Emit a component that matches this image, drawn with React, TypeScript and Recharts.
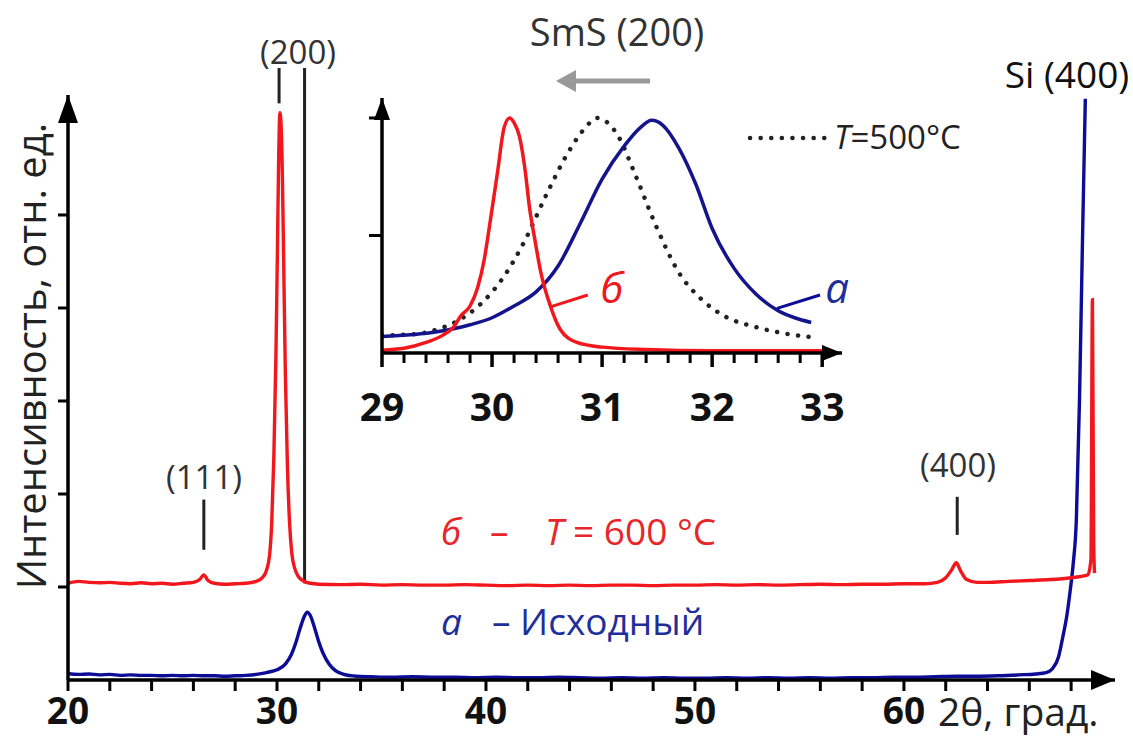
import React from "react";
import {
  ComposedChart,
  LineChart,
  Line,
  XAxis,
  YAxis,
  ReferenceLine,
  ReferenceDot,
} from "recharts";

const FONT = '"Open Sans", "Noto Sans", sans-serif';
const RED = "#f2161d";
const BLUE = "#0c0c96";

// main XRD pattern: 2θ (deg), intensity in tick units (arb.)
const mainXTicks = [20, 22, 24, 26, 28, 30, 32, 34, 36, 38, 40, 42, 44, 46, 48, 50, 52, 54, 56, 58, 60, 62, 64, 66, 68];
const mainYTicks = [1, 2, 3, 4, 5];

// а – as-deposited
const curveA: [number, number][] = [
  [20.0, 0.07], [20.5, 0.06], [21.0, 0.065], [21.5, 0.055], [22.0, 0.06], [22.5, 0.05], [23.0, 0.055],
  [23.5, 0.05], [24.0, 0.05], [24.5, 0.045], [25.0, 0.05], [25.5, 0.045], [26.0, 0.05], [26.5, 0.045],
  [27.0, 0.045], [27.5, 0.04], [28.0, 0.045], [28.5, 0.05], [29.0, 0.06], [29.5, 0.08], [30.0, 0.11],
  [30.4, 0.17], [30.7, 0.28], [30.9, 0.4], [31.1, 0.55], [31.3, 0.68], [31.45, 0.73], [31.6, 0.69],
  [31.8, 0.56], [32.0, 0.41], [32.2, 0.29], [32.5, 0.17], [32.8, 0.1], [33.2, 0.06], [33.8, 0.04],
  [34.5, 0.035], [35.5, 0.03], [36.5, 0.035], [37.5, 0.03], [38.5, 0.03], [39.5, 0.025], [40.5, 0.03],
  [41.5, 0.025], [42.5, 0.025], [43.5, 0.03], [44.5, 0.025], [45.5, 0.02], [46.5, 0.025], [47.5, 0.02],
  [48.5, 0.025], [49.5, 0.02], [50.5, 0.02], [51.5, 0.025], [52.5, 0.02], [53.5, 0.025], [54.5, 0.02],
  [55.5, 0.025], [56.5, 0.02], [57.5, 0.025], [58.5, 0.025], [59.5, 0.03], [60.5, 0.03], [61.5, 0.035],
  [62.5, 0.04], [63.5, 0.04], [64.5, 0.045], [65.5, 0.055], [66.3, 0.065], [66.8, 0.08], [67.1, 0.12],
  [67.4, 0.25], [67.6, 0.46], [67.8, 0.7], [67.95, 0.95], [68.1, 1.25], [68.25, 1.72], [68.4, 3.0],
  [68.55, 4.8], [68.68, 6.25],
];

// б – annealed at 600 °C (offset upward)
const curveB: [number, number][] = [
  [20.0, 1.04], [20.5, 1.06], [21.0, 1.05], [21.5, 1.045], [22.0, 1.05], [22.5, 1.04], [23.0, 1.035],
  [23.5, 1.045], [24.0, 1.035], [24.5, 1.04], [25.0, 1.03], [25.5, 1.04], [26.0, 1.05], [26.3, 1.08],
  [26.5, 1.13], [26.7, 1.07], [27.0, 1.04], [27.5, 1.03], [28.0, 1.035], [28.5, 1.04], [29.0, 1.06],
  [29.3, 1.1], [29.5, 1.18], [29.65, 1.35], [29.75, 1.7], [29.85, 2.4], [29.95, 3.5], [30.02, 4.6],
  [30.08, 5.6], [30.14, 6.1], [30.2, 5.95], [30.26, 5.4], [30.32, 4.5], [30.4, 3.3], [30.5, 2.3],
  [30.6, 1.7], [30.7, 1.38], [30.85, 1.2], [31.0, 1.12], [31.3, 1.06], [31.6, 1.04], [32.0, 1.03],
  [33, 1.025], [34, 1.03], [35, 1.02], [36, 1.025], [37, 1.02], [38, 1.02], [39, 1.025], [40, 1.02],
  [41, 1.015], [42, 1.02], [43, 1.015], [44, 1.02], [45, 1.015], [46, 1.02], [47, 1.02], [48, 1.015],
  [49, 1.02], [50, 1.02], [51, 1.025], [52, 1.02], [53, 1.025], [54, 1.02], [55, 1.025], [56, 1.03],
  [57, 1.025], [58, 1.03], [59, 1.03], [60, 1.035], [61, 1.035], [61.6, 1.05], [62.0, 1.1], [62.3, 1.19],
  [62.5, 1.26], [62.7, 1.18], [63.0, 1.08], [63.5, 1.05], [64, 1.05], [65, 1.06], [66, 1.07], [67, 1.08],
  [68, 1.1], [68.8, 1.13], [68.95, 1.3], [69.02, 4.09], [69.08, 1.5], [69.12, 1.15],
];

// inset: SmS (200) normalised
const insetXTicks = [29, 29.2, 29.4, 29.6, 29.8, 30, 30.2, 30.4, 30.6, 30.8, 31, 31.2, 31.4, 31.6, 31.8, 32, 32.2, 32.4, 32.6, 32.8, 33];
const insetYTicks = [0.5, 1];

const insetA: [number, number][] = [
  [29.0, 0.07], [29.5, 0.09], [29.8, 0.12], [30.0, 0.15], [30.2, 0.2], [30.4, 0.26], [30.6, 0.37],
  [30.8, 0.55], [31.0, 0.74], [31.2, 0.88], [31.35, 0.96], [31.45, 0.99], [31.55, 0.97], [31.7, 0.87],
  [31.85, 0.72], [32.0, 0.53], [32.2, 0.36], [32.4, 0.25], [32.6, 0.18], [32.75, 0.15], [32.9, 0.13],
];
const insetB: [number, number][] = [
  [29.0, 0.012], [29.2, 0.02], [29.4, 0.045], [29.55, 0.075], [29.65, 0.11], [29.72, 0.16], [29.8, 0.2],
  [29.87, 0.28], [29.93, 0.4], [29.98, 0.55], [30.05, 0.77], [30.11, 0.96], [30.16, 1.0], [30.2, 0.98],
  [30.25, 0.92], [30.3, 0.78], [30.34, 0.62], [30.39, 0.48], [30.44, 0.35], [30.53, 0.2], [30.62, 0.1],
  [30.77, 0.045], [31.0, 0.025], [31.4, 0.015], [32, 0.01], [32.6, 0.01], [33.05, 0.01],
];
const insetT500: [number, number][] = [
  [29.0, 0.075], [29.3, 0.08], [29.5, 0.1], [29.7, 0.14], [29.9, 0.21], [30.1, 0.32], [30.3, 0.48],
  [30.5, 0.68], [30.7, 0.86], [30.85, 0.96], [30.95, 1.0], [31.05, 0.98], [31.15, 0.92], [31.3, 0.76],
  [31.5, 0.53], [31.7, 0.34], [31.9, 0.23], [32.1, 0.16], [32.4, 0.11], [32.7, 0.08], [32.95, 0.065],
];

const toXY = (pts: [number, number][]) => pts.map(([x, y]) => ({ x, y }));

const MAIN_X = [20, 70.1];
const MAIN_Y = [0, 6.29];
const INSET_X = [29, 33.18];
const INSET_Y = [0, 1.085];

const arrowRight = (len: number, half: number) => (p: any) => (
  <polygon points={`${p.cx - len},${p.cy - half} ${p.cx},${p.cy} ${p.cx - len},${p.cy + half}`} fill="#000" />
);
const arrowUp = (len: number, half: number) => (p: any) => (
  <polygon points={`${p.cx - half},${p.cy + len} ${p.cx},${p.cy} ${p.cx + half},${p.cy + len}`} fill="#000" />
);

const MainXTick = (props: any) => {
  const { x, y, payload } = props;
  const major = payload.value % 10 === 0;
  return (
    <g>
      <line x1={x} x2={x} y1={y} y2={y + 11} stroke="#000" strokeWidth={3} />
      {major && (
        <text x={x} y={y + 44} textAnchor="middle" fontSize={37} fontWeight={700} fontFamily={FONT} fill="#111">
          {payload.value}
        </text>
      )}
    </g>
  );
};

const MainYTick = (props: any) => {
  const { x, y } = props;
  return <line x1={x} x2={x - 10} y1={y} y2={y} stroke="#000" strokeWidth={3} />;
};

const InsetXTick = (props: any) => {
  const { x, y, payload } = props;
  const major = Math.abs(payload.value - Math.round(payload.value)) < 1e-6;
  return (
    <g>
      <line x1={x} x2={x} y1={y} y2={y + (major ? 14 : 10)} stroke="#000" strokeWidth={major ? 3.5 : 3} />
      {major && (
        <text x={x} y={y + 68} textAnchor="middle" fontSize={39} fontWeight={700} fontFamily={FONT} fill="#111">
          {Math.round(payload.value)}
        </text>
      )}
    </g>
  );
};

const InsetYTick = (props: any) => {
  const { x, y } = props;
  return <line x1={x} x2={x - 13} y1={y} y2={y} stroke="#000" strokeWidth={3} />;
};

function MainChart() {
  return (
    <ComposedChart width={1133} height={742} margin={{ top: 95, right: 18, bottom: 32, left: 8 }}>
      <XAxis
        type="number"
        dataKey="x"
        domain={MAIN_X}
        allowDataOverflow
        ticks={mainXTicks}
        interval={0}
        height={30}
        tickSize={0}
        tickMargin={0}
        tickLine={false}
        tick={<MainXTick />}
        axisLine={{ stroke: "#000", strokeWidth: 3.5 }}
      />
      <YAxis
        type="number"
        dataKey="y"
        domain={MAIN_Y}
        allowDataOverflow
        ticks={mainYTicks}
        interval={0}
        width={60}
        tickSize={0}
        tickMargin={0}
        tickLine={false}
        tick={<MainYTick />}
        axisLine={{ stroke: "#000", strokeWidth: 3.5 }}
      />
      {/* peak markers */}
      <ReferenceLine segment={[{ x: 26.5, y: 1.4 }, { x: 26.5, y: 1.94 }]} stroke="#222" strokeWidth={3} ifOverflow="visible" />
      <ReferenceLine segment={[{ x: 62.55, y: 1.56 }, { x: 62.55, y: 1.97 }]} stroke="#222" strokeWidth={3} ifOverflow="visible" />
      <ReferenceLine segment={[{ x: 30.1, y: 6.2 }, { x: 30.1, y: 6.58 }]} stroke="#222" strokeWidth={3} ifOverflow="visible" />
      <ReferenceLine segment={[{ x: 31.32, y: 1.04 }, { x: 31.32, y: 6.58 }]} stroke="#222" strokeWidth={3} ifOverflow="visible" />
      <Line data={toXY(curveA)} dataKey="y" type="monotone" stroke={BLUE} strokeWidth={3.4} dot={false} isAnimationActive={false} />
      <Line data={toXY(curveB)} dataKey="y" type="monotone" stroke={RED} strokeWidth={3.4} dot={false} isAnimationActive={false} />
      <ReferenceDot x={MAIN_X[1]} y={0} ifOverflow="visible" shape={arrowRight(24, 10)} />
      <ReferenceDot x={MAIN_X[0]} y={MAIN_Y[1]} ifOverflow="visible" shape={arrowUp(28, 10)} />
    </ComposedChart>
  );
}

function InsetChart() {
  return (
    <LineChart width={540} height={380} margin={{ top: 38, right: 28, bottom: 57, left: 12 }}>
      <XAxis
        type="number"
        dataKey="x"
        domain={INSET_X}
        allowDataOverflow
        ticks={insetXTicks}
        interval={0}
        height={30}
        tickSize={0}
        tickMargin={0}
        tickLine={false}
        tick={<InsetXTick />}
        axisLine={{ stroke: "#000", strokeWidth: 3.5 }}
      />
      <YAxis
        type="number"
        dataKey="y"
        domain={INSET_Y}
        allowDataOverflow
        ticks={insetYTicks}
        interval={0}
        width={40}
        tickSize={0}
        tickMargin={0}
        tickLine={false}
        tick={<InsetYTick />}
        axisLine={{ stroke: "#000", strokeWidth: 3.5 }}
      />
      <ReferenceLine segment={[{ x: 30.53, y: 0.196 }, { x: 30.87, y: 0.247 }]} stroke={RED} strokeWidth={3} ifOverflow="visible" />
      <ReferenceLine segment={[{ x: 32.59, y: 0.19 }, { x: 32.98, y: 0.247 }]} stroke={BLUE} strokeWidth={3} ifOverflow="visible" />
      <Line
        data={toXY(insetT500)}
        dataKey="y"
        type="monotone"
        stroke="#222"
        strokeWidth={4.5}
        strokeDasharray="0.1 10.5"
        strokeLinecap="round"
        dot={false}
        isAnimationActive={false}
      />
      <Line data={toXY(insetA)} dataKey="y" type="monotone" stroke="#14148c" strokeWidth={3.5} dot={false} isAnimationActive={false} />
      <Line data={toXY(insetB)} dataKey="y" type="monotone" stroke={RED} strokeWidth={3.5} dot={false} isAnimationActive={false} />
      <ReferenceDot x={INSET_X[1]} y={0} ifOverflow="visible" shape={arrowRight(20, 8)} />
      <ReferenceDot x={INSET_X[0]} y={INSET_Y[1]} ifOverflow="visible" shape={arrowUp(22, 8)} />
    </LineChart>
  );
}

function Annotations() {
  const lbl = { fontFamily: FONT, fill: "#333" };
  return (
    <svg width={1133} height={742} style={{ position: "absolute", left: 0, top: 0, pointerEvents: "none" }}>
      <text x={298} y={64} textAnchor="middle" fontSize={33} {...lbl}>(200)</text>
      <text x={204} y={489} textAnchor="middle" fontSize={33} {...lbl}>(111)</text>
      <text x={958} y={477} textAnchor="middle" fontSize={33} {...lbl}>(400)</text>
      <text x={1067} y={88} textAnchor="middle" fontSize={37} fontFamily={FONT} fill="#111">Si (400)</text>
      <text x={617} y={46} textAnchor="middle" fontSize={38} {...lbl}>SmS (200)</text>
      {/* shift arrow */}
      <line x1={650} y1={81} x2={572} y2={81} stroke="#999" strokeWidth={5} />
      <polygon points="556,81 576,70 576,92" fill="#999" />
      {/* T=500 legend */}
      <line x1={750} y1={138} x2={828} y2={138} stroke="#222" strokeWidth={4.5} strokeDasharray="0.1 10.5" strokeLinecap="round" />
      <text x={834} y={149} fontSize={33} fontFamily={FONT} fill="#222">
        <tspan fontStyle="italic">T</tspan>=500°C
      </text>
      {/* inset curve labels */}
      <text x={612} y={303} textAnchor="middle" fontSize={42} fontStyle="italic" fontFamily={FONT} fill={RED}>б</text>
      <text x={837} y={303} textAnchor="middle" fontSize={42} fontStyle="italic" fontFamily={FONT} fill="#1f2f9a">а</text>
      {/* main curve labels */}
      <text y={545} fontSize={37} fontFamily={FONT} fill="#e8262a">
        <tspan x={441} fontStyle="italic">б</tspan>
        <tspan x={490}>–</tspan>
        <tspan x={545} fontStyle="italic">T</tspan>
        <tspan> = 600 °C</tspan>
      </text>
      <text y={635} fontSize={37} fontFamily={FONT} fill="#1f2f9a">
        <tspan x={441} fontStyle="italic">а</tspan>
        <tspan x={492}>– Исходный</tspan>
      </text>
      {/* axis titles */}
      <text
        transform="translate(30,356) rotate(-90)"
        textAnchor="middle"
        dominantBaseline="central"
        fontSize={40}
        fontFamily={FONT}
        fill="#222"
      >
        Интенсивность, отн. ед.
      </text>
      <text x={938} y={726} fontSize={39} fontFamily={FONT} fill="#222">2θ, град.</text>
    </svg>
  );
}

export default function App() {
  return (
    <div style={{ position: "absolute", left: 0, top: 0, width: 1133, height: 742, background: "#fff", overflow: "hidden" }}>
      <div style={{ position: "absolute", left: 0, top: 0 }}>
        <MainChart />
      </div>
      <div style={{ position: "absolute", left: 330, top: 60 }}>
        <InsetChart />
      </div>
      <Annotations />
    </div>
  );
}
